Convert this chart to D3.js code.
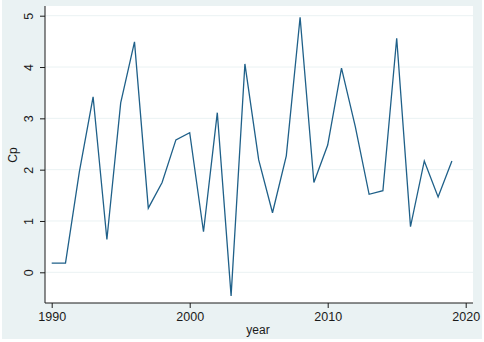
<!DOCTYPE html>
<html>
<head>
<meta charset="utf-8">
<script src="https://cdn.jsdelivr.net/npm/d3@7"></script>
<style>
  body { margin: 0; background: #fff; }
  svg { display: block; font-family: Arial, "Liberation Sans", sans-serif; }
</style>
</head>
<body>
<svg id="chart" width="484" height="342"></svg>
<script>
const years = [1990, 1991, 1992, 1993, 1994, 1995, 1996, 1997, 1998, 1999,
  2000, 2001, 2002, 2003, 2004, 2005, 2006, 2007, 2008, 2009,
  2010, 2011, 2012, 2013, 2014, 2015, 2016, 2017, 2018, 2019];
const cp = [0.18, 0.18, 1.95, 3.42, 0.64, 3.3, 4.49, 1.25, 1.75, 2.58,
  2.72, 0.79, 3.11, -0.46, 4.06, 2.19, 1.16, 2.27, 4.97, 1.75,
  2.48, 3.98, 2.84, 1.52, 1.59, 4.56, 0.89, 2.17, 1.47, 2.17];
const xTicks = [1990, 2000, 2010, 2020];
const yTicks = [0, 1, 2, 3, 4, 5];

const data = years.map((y, i) => ({ year: y, value: cp[i] }));

const svg = d3.select("#chart");
const bg = "#eaf2f3";
const lineColour = "#1f6089";
const ink = "#1a1a1a";

// outer stata-like background
svg.append("rect")
  .attr("x", 2).attr("y", 0)
  .attr("width", 480).attr("height", 339)
  .attr("fill", bg);

const plot = { left: 45, right: 473, top: 6, bottom: 303 };

const x = d3.scaleLinear()
  .domain([1990, 2020])
  .range([51.7, 465.7]);

const y = d3.scaleLinear()
  .domain([0, 5])
  .range([272.3, 15.7]);

svg.append("rect")
  .attr("x", plot.left).attr("y", plot.top)
  .attr("width", plot.right - plot.left)
  .attr("height", plot.bottom - plot.top)
  .attr("fill", "#fff");

// gridlines
svg.append("g")
  .selectAll("line")
  .data(yTicks)
  .join("line")
  .attr("x1", plot.left).attr("x2", plot.right)
  .attr("y1", d => y(d)).attr("y2", d => y(d))
  .attr("stroke", bg)
  .attr("stroke-width", 1);

// y axis
const yAxis = svg.append("g")
  .attr("transform", `translate(${plot.left},0)`)
  .call(d3.axisLeft(y).tickValues(yTicks).tickSize(5).tickFormat(d3.format("d")));
yAxis.select(".domain")
  .attr("d", `M0,${plot.top}V${plot.bottom}`)
  .attr("stroke", ink);
yAxis.selectAll(".tick line").attr("stroke", ink);
yAxis.selectAll(".tick text")
  .attr("x", null)
  .attr("text-anchor", "middle")
  .attr("transform", "translate(-16,0) rotate(-90)")
  .attr("dy", "0.35em")
  .attr("font-size", 12.5)
  .attr("fill", ink)
  .attr("font-family", "Arial, 'Liberation Sans', sans-serif");

// x axis
const xAxis = svg.append("g")
  .attr("transform", `translate(0,${plot.bottom})`)
  .call(d3.axisBottom(x).tickValues(xTicks).tickSize(5).tickPadding(4).tickFormat(d3.format("d")));
xAxis.select(".domain")
  .attr("d", `M${plot.left},0H${plot.right}`)
  .attr("stroke", ink);
xAxis.selectAll(".tick line").attr("stroke", ink);
xAxis.selectAll(".tick text")
  .attr("font-size", 12.5)
  .attr("fill", ink)
  .attr("font-family", "Arial, 'Liberation Sans', sans-serif");

// axis titles
svg.append("text")
  .attr("transform", "translate(13,155) rotate(-90)")
  .attr("text-anchor", "middle")
  .attr("dy", "0.35em")
  .attr("font-size", 12)
  .attr("fill", ink)
  .text("Cp");

svg.append("text")
  .attr("x", 258).attr("y", 334)
  .attr("text-anchor", "middle")
  .attr("font-size", 12)
  .attr("fill", ink)
  .text("year");

// series
const line = d3.line()
  .x(d => x(d.year))
  .y(d => y(d.value));

svg.append("path")
  .datum(data)
  .attr("d", line)
  .attr("fill", "none")
  .attr("stroke", lineColour)
  .attr("stroke-width", 1.3)
  .attr("stroke-linejoin", "miter");
</script>
</body>
</html>
